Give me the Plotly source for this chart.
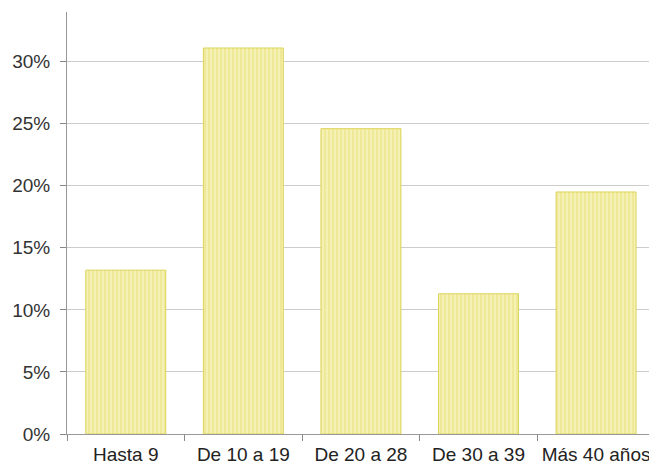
import plotly.graph_objects as go

categories = ["Hasta 9", "De 10 a 19", "De 20 a 28", "De 30 a 39", "Más 40 años"]
values = [0.132, 0.311, 0.246, 0.113, 0.195]
y_ticks = [0, 0.05, 0.10, 0.15, 0.20, 0.25, 0.30]
y_tick_labels = ["0%", "5%", "10%", "15%", "20%", "25%", "30%"]

fig = go.Figure(go.Bar(
    x=categories, y=values, width=0.68,
    marker=dict(
        color="#f3f0a8",
        line=dict(color="#ddd45a", width=1),
        pattern=dict(shape="|", fgcolor="#e3da62", bgcolor="#f5f1b4", size=4, solidity=0.35),
    ),
))

fig.update_layout(
    width=649, height=466,
    margin=dict(l=67, r=0, t=12, b=32),
    paper_bgcolor="white", plot_bgcolor="white",
    showlegend=False,
    font=dict(family="Liberation Sans, Arial, sans-serif", size=19, color="#333333"),
)
fig.update_xaxes(
    range=[-0.5, 4.45], showline=True, linecolor="#999999", linewidth=1,
    ticks="outside", tickson="boundaries", ticklen=6, tickcolor="#888888",
    ticklabelstandoff=3,
    showgrid=False, tickfont=dict(size=19, color="#222222"),
)
fig.update_yaxes(
    range=[0, 0.34], tickvals=y_ticks, ticktext=y_tick_labels,
    showline=True, linecolor="#999999", linewidth=1,
    ticks="outside", ticklen=6, tickcolor="#888888",
    ticklabelstandoff=6,
    showgrid=True, gridcolor="#cccccc", gridwidth=1, zeroline=False,
    tickfont=dict(size=19, color="#333333"),
)

fig.write_html(
    "out.html",
    config={"displayModeBar": False},
    post_script="document.body.style.margin='0';document.body.style.overflow='hidden';",
)
